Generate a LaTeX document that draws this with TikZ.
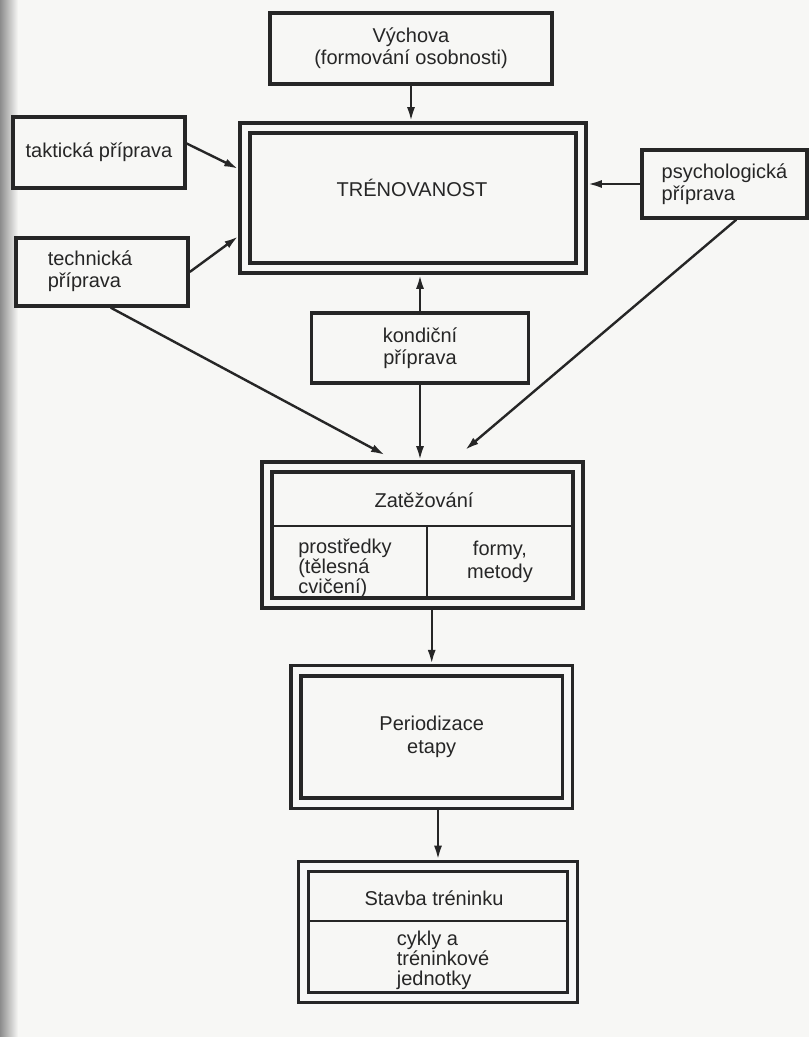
\documentclass[tikz,border=0pt]{standalone}
\usepackage{fontspec}
\setmainfont{Liberation Sans}
\usetikzlibrary{arrows.meta,calc}
\definecolor{ink}{HTML}{262626}
\definecolor{paper}{HTML}{F7F7F5}
\tikzset{
  box/.style={draw=ink, line width=1.7pt, fill=paper, inner sep=0pt, align=center, text=ink},
  dblbox/.style={box, double=paper, double distance=3.4pt, outer sep=3.4pt},
  txt/.style={text=ink, inner sep=0pt, align=center},
  tight/.style={font=\fontsize{10}{10}\selectfont},
  arr/.style={draw=ink, line width=1.2pt, -{Latex[length=7pt,width=4pt]}},
  divider/.style={draw=ink, line width=1.4pt}
}
\begin{document}
\begin{tikzpicture}[x=0.5pt,y=-0.5pt,font=\fontsize{10}{11.2}\selectfont]
  \useasboundingbox (0,0) rectangle (809,1037);
  \fill[paper] (0,0) rectangle (809,1037);
  \shade[left color=black!45, right color=paper] (0,0) rectangle (18,1037);

  \node[box, minimum width=141pt, minimum height=35.5pt] (vych) at (411,48.5) {Výchova\\(formování osobnosti)};
  \node[dblbox, minimum width=168pt, minimum height=70pt] (tren) at (413,198) {};
  \node[txt] (trenTxt) at (412,188) {TRÉNOVANOST};
  \node[box, minimum width=86pt, minimum height=35.5pt] (takt) at (99,152.5) {taktická příprava};
  \node[box, minimum width=86pt, minimum height=34pt] (tech) at (102,272) {};
  \node[txt, align=left] (techTxt) at (90,271) {technická\\příprava};
  \node[box, minimum width=82.5pt, minimum height=34pt, align=left] (psych) at (724.5,184) {psychologická\\příprava};
  \node[box, minimum width=108.5pt, minimum height=35pt] (kond) at (420,348) {kondiční\\příprava};

  \node[dblbox, minimum width=155.5pt, minimum height=68pt] (zat) at (422.5,535) {};
  \draw[divider] (272,526) -- (573,526);
  \draw[divider] (427,526) -- (427,598);
  \node[txt] (zatTop) at (424,500) {Zatěžování};
  \node[txt, tight, align=left] (zatL) at (345,568) {prostředky\\(tělesná\\cvičení)};
  \node[txt] (zatR) at (500,562) {formy,\\metody};

  \node[dblbox, minimum width=135.75pt, minimum height=66.25pt] (per) at (431.7,737) {Periodizace\\etapy};

  \node[dblbox, minimum width=134.5pt, minimum height=65.5pt] (stav) at (438,932) {};
  \draw[divider] (309,921) -- (567,921);
  \node[txt] (stavTop) at (434,898) {Stavba tréninku};
  \node[txt, tight, align=left] (stavBot) at (443,960) {cykly a\\tréninkové\\jednotky};

  \coordinate (tipL) at (385,455);
  \coordinate (tipR) at (465,450);

  \draw[arr] (vych.south) -- (vych.south |- tren.north);
  \draw[arr] ([yshift=4.5pt]takt.east) -- ($(tren.north west)!0.31!(tren.south west)$);
  \draw[arr] (tech.east) -- ($(tren.north west)!0.75!(tren.south west)$);
  \draw[arr] (psych.west) -- (psych.west -| tren.east);
  \draw[arr] (kond.north) -- (kond.north |- tren.south);
  \draw[arr] (kond.south) -- (kond.south |- zat.north);
  \draw[arr] ($(tech.south west)!0.55!(tech.south east)$) -- (tipL);
  \draw[arr] ($(psych.south west)!0.57!(psych.south east)$) -- (tipR);
  \draw[arr] (per.north |- zat.south) -- (per.north);
  \draw[arr] (stav.north |- per.south) -- (stav.north);
\end{tikzpicture}
\end{document}
